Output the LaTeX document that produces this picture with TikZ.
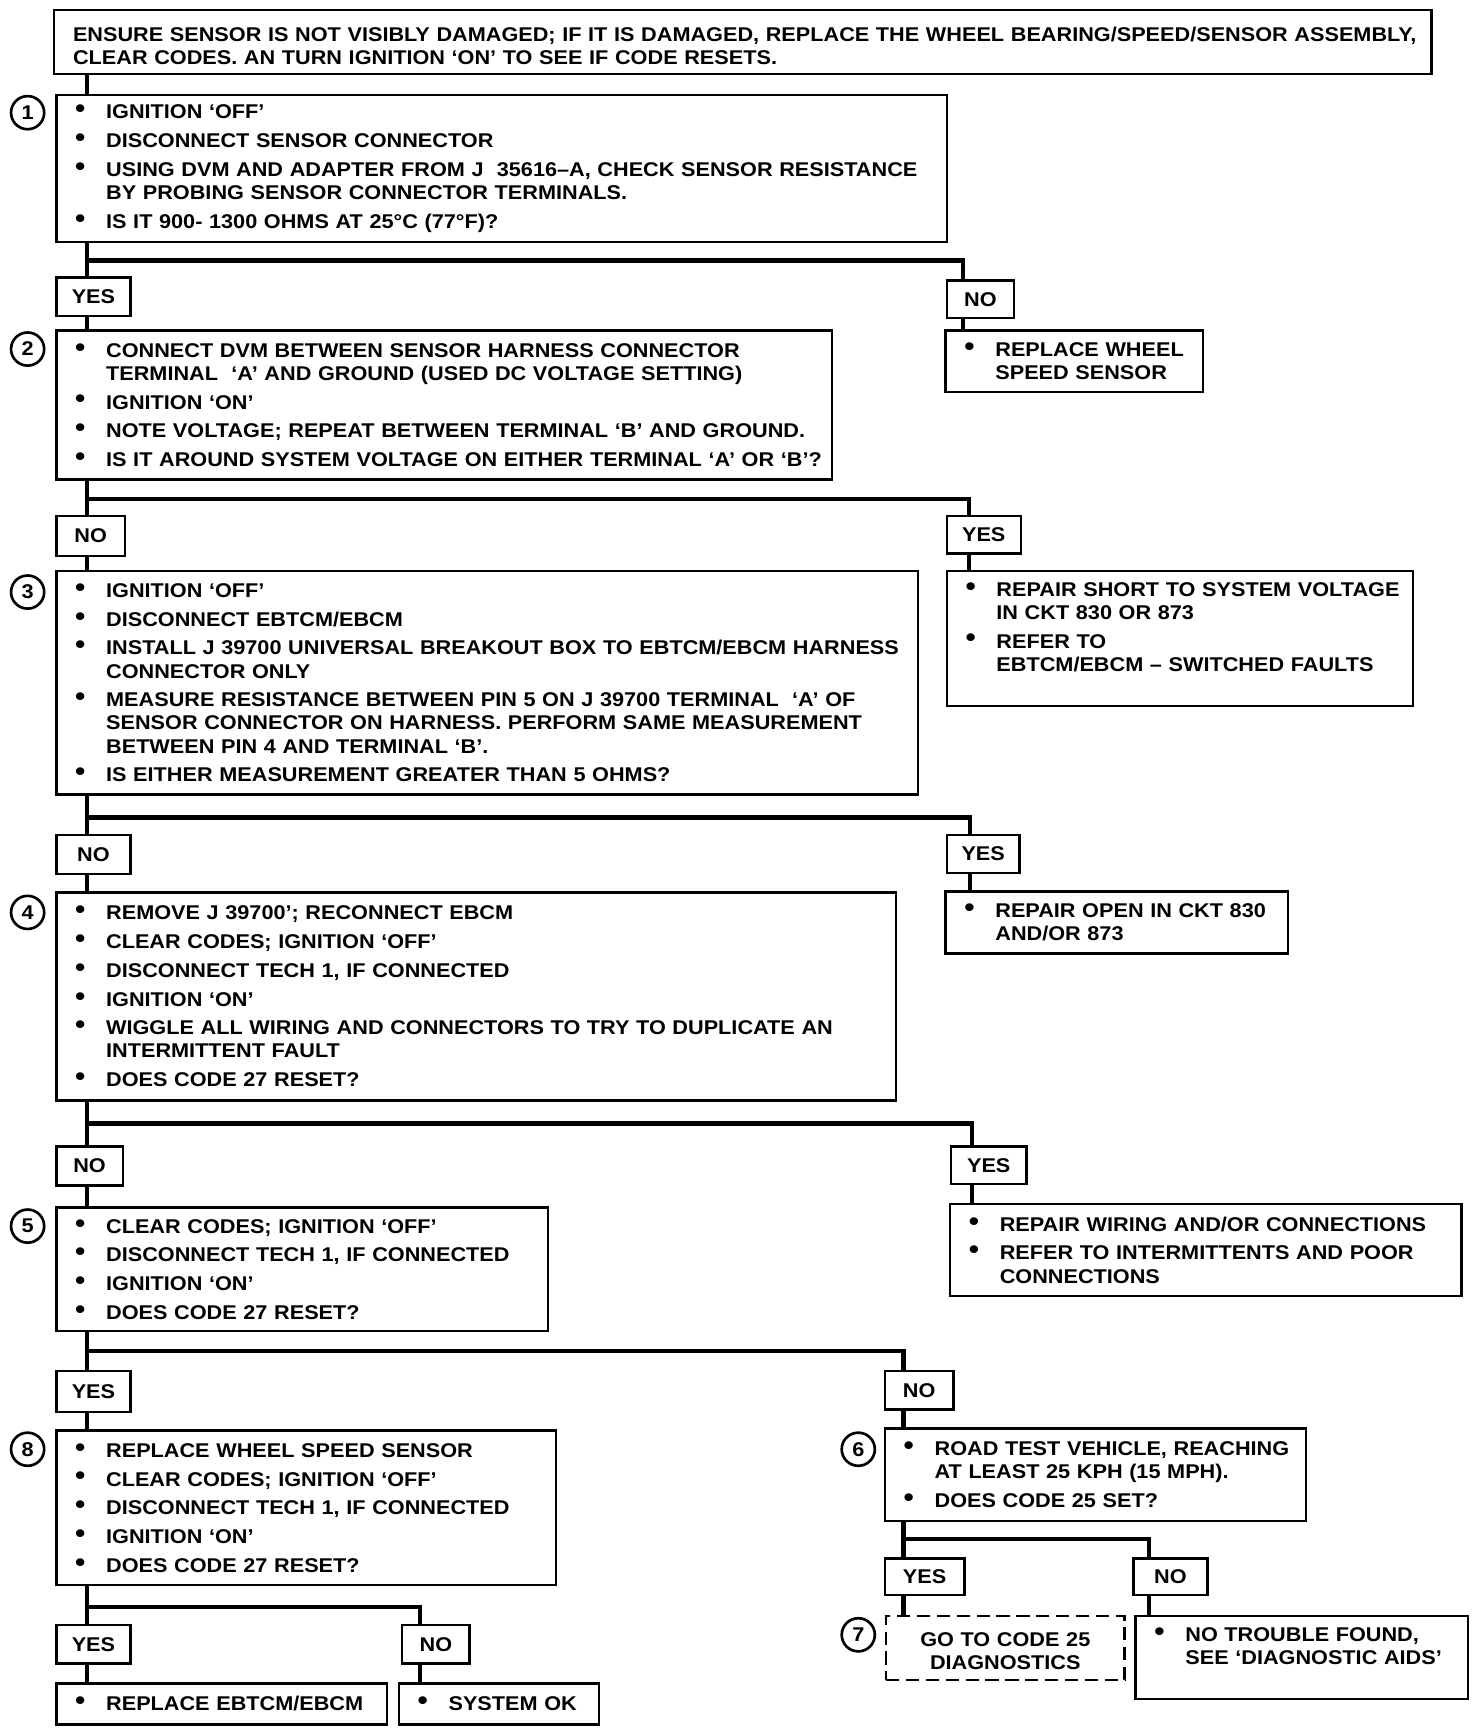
\documentclass[tikz,border=0pt]{standalone}
\usepackage{graphicx}
\usepackage{fontspec}
\setmainfont{Liberation Sans}[FakeStretch=1.09]

% one bullet line of a step box (no paragraph break before the first one)
\newcommand{\bulpar}{\relax}
\newcommand{\bitem}{\bulpar\def\bulpar{\par}\hangindent=14pt\hangafter=1\noindent
  \makebox[14pt][l]{\raisebox{0.1ex}{\scalebox{1.35}{\textbullet}}}}
% extra space under the text of a box
\newcommand{\botgap}[1]{\par\vspace{#1}}

\begin{document}
\begin{tikzpicture}[x=0.5pt,y=-0.5pt,
  box/.style={draw, line width=1.1pt, anchor=north west, inner xsep=4pt, inner ysep=0pt,
    font=\bfseries\fontsize{9}{10.5}\selectfont,
    execute at begin node={\raggedright\leftskip=4.5pt\rightskip=-5pt plus 1fil\parskip=2.5pt\let\bulpar\relax}},
  lab/.style={draw, line width=1.1pt, anchor=north west, inner sep=0pt,
    font=\bfseries\fontsize{9}{10.5}\selectfont},
  num/.style={circle, draw, line width=1.2pt, minimum size=15pt, inner sep=0pt,
    font=\bfseries\fontsize{9}{10}\selectfont},
  conn/.style={line width=2pt}]
\useasboundingbox (0,0) rectangle (1333,1568);

% step boxes
\node[box, minimum width=623.5pt, minimum height=29pt, text width=615.5pt] (s0) at (48,8)
  {\leftskip=3.5pt\rule{0pt}{10pt}ENSURE SENSOR IS NOT VISIBLY DAMAGED; IF IT IS DAMAGED, REPLACE THE WHEEL BEARING/SPEED/SENSOR ASSEMBLY,\newline
   CLEAR CODES. AN TURN IGNITION `ON' TO SEE IF CODE RESETS.};
\node[box, minimum width=403pt, minimum height=66.5pt, text width=395pt] (s1) at (50,85)
  {\bitem IGNITION `OFF'
   \bitem DISCONNECT SENSOR CONNECTOR
   \bitem USING DVM AND ADAPTER FROM J\ \ 35616--A, CHECK SENSOR RESISTANCE\newline BY PROBING SENSOR CONNECTOR TERMINALS.
   \bitem IS IT 900- 1300 OHMS AT 25°C (77°F)?\botgap{4pt}};
\node[box, minimum width=351pt, minimum height=67.5pt, text width=343pt] (s2) at (50,298)
  {\bitem CONNECT DVM BETWEEN SENSOR HARNESS CONNECTOR\newline TERMINAL\ \ `A' AND GROUND (USED DC VOLTAGE SETTING)
   \bitem IGNITION `ON'
   \bitem NOTE VOLTAGE; REPEAT BETWEEN TERMINAL `B' AND GROUND.
   \bitem IS IT AROUND SYSTEM VOLTAGE ON EITHER TERMINAL `A' OR `B'?\botgap{4pt}};
\node[box, minimum width=390pt, minimum height=101pt, text width=382pt] (s3) at (50,516)
  {\bitem IGNITION `OFF'
   \bitem DISCONNECT EBTCM/EBCM
   \bitem INSTALL J 39700 UNIVERSAL BREAKOUT BOX TO EBTCM/EBCM HARNESS\newline CONNECTOR ONLY
   \bitem MEASURE RESISTANCE BETWEEN PIN 5 ON J 39700 TERMINAL\ \ `A' OF\newline SENSOR CONNECTOR ON HARNESS. PERFORM SAME MEASUREMENT\newline BETWEEN PIN 4 AND TERMINAL `B'.
   \bitem IS EITHER MEASUREMENT GREATER THAN 5 OHMS?\botgap{4pt}};
\node[box, minimum width=380pt, minimum height=94pt, text width=372pt] (s4) at (50,807)
  {\bitem REMOVE J 39700'; RECONNECT EBCM
   \bitem CLEAR CODES; IGNITION `OFF'
   \bitem DISCONNECT TECH 1, IF CONNECTED
   \bitem IGNITION `ON'
   \bitem WIGGLE ALL WIRING AND CONNECTORS TO TRY TO DUPLICATE AN\newline INTERMITTENT FAULT
   \bitem DOES CODE 27 RESET?\botgap{4pt}};
\node[box, minimum width=222.5pt, minimum height=56pt, text width=214.5pt] (s5) at (50,1092)
  {\bitem CLEAR CODES; IGNITION `OFF'
   \bitem DISCONNECT TECH 1, IF CONNECTED
   \bitem IGNITION `ON'
   \bitem DOES CODE 27 RESET?\botgap{4pt}};
\node[box, minimum width=226pt, minimum height=70pt, text width=218pt] (s8) at (50,1294)
  {\bitem REPLACE WHEEL SPEED SENSOR
   \bitem CLEAR CODES; IGNITION `OFF'
   \bitem DISCONNECT TECH 1, IF CONNECTED
   \bitem IGNITION `ON'
   \bitem DOES CODE 27 RESET?\botgap{4pt}};
\node[box, minimum width=190.5pt, minimum height=42pt, text width=182.5pt] (s6) at (800,1292)
  {\bitem ROAD TEST VEHICLE, REACHING\newline AT LEAST 25 KPH (15 MPH).
   \bitem DOES CODE 25 SET?\botgap{4pt}};
\node[box, dash pattern=on 6pt off 3pt, minimum width=108pt, minimum height=29pt, text width=100pt,
  execute at begin node={\centering}] (s7) at (801,1462)
  {\rule{0pt}{9pt}GO TO CODE 25\\ DIAGNOSTICS};

% result boxes
\node[box, minimum width=116.5pt, minimum height=28pt, text width=108.5pt] (r1) at (855,298)
  {\bitem REPLACE WHEEL\newline SPEED SENSOR\botgap{4pt}};
\node[box, minimum width=211pt, minimum height=61pt, text width=203pt] (r2) at (856,516)
  {\vbox to 51pt{\leftskip=0pt\bitem REPAIR SHORT TO SYSTEM VOLTAGE\newline IN CKT 830 OR 873
   \bitem REFER TO\newline EBTCM/EBCM -- SWITCHED FAULTS\par\vfil}};
\node[box, minimum width=155pt, minimum height=28pt, text width=147pt] (r3) at (855,806)
  {\bitem REPAIR OPEN IN CKT 830\newline AND/OR 873\botgap{4pt}};
\node[box, minimum width=231.5pt, minimum height=41.5pt, text width=223.5pt] (r4) at (859,1089)
  {\bitem REPAIR WIRING AND/OR CONNECTIONS
   \bitem REFER TO INTERMITTENTS AND POOR\newline CONNECTIONS\botgap{4pt}};
\node[box, minimum width=149.5pt, minimum height=18.5pt, text width=141.5pt] (r5) at (50,1523)
  {\bitem REPLACE EBTCM/EBCM\botgap{4pt}};
\node[box, minimum width=90.5pt, minimum height=18.5pt, text width=82.5pt] (r6) at (360,1523)
  {\bitem SYSTEM OK\botgap{4pt}};
\node[box, minimum width=150.5pt, minimum height=37.5pt, text width=142.5pt] (r7) at (1027,1462)
  {\vbox to 27.5pt{\leftskip=0pt\bitem NO TROUBLE FOUND,\newline SEE `DIAGNOSTIC AIDS'\par\vfil}};

% answer labels
\node[lab, minimum width=33.5pt, minimum height=17.5pt] (ly1) at (50,250) {YES};
\node[lab, minimum width=30.5pt, minimum height=17pt] (ln1) at (856,253) {NO};
\node[lab, minimum width=31pt, minimum height=18pt] (ln2) at (50,466) {NO};
\node[lab, minimum width=33.5pt, minimum height=17pt] (ly2) at (856,466) {YES};
\node[lab, minimum width=33.5pt, minimum height=17.5pt] (ln3) at (50,755) {NO};
\node[lab, minimum width=33pt, minimum height=17pt] (ly3) at (856,755) {YES};
\node[lab, minimum width=30pt, minimum height=17.5pt] (ln4) at (50,1037) {NO};
\node[lab, minimum width=34pt, minimum height=17pt] (ly4) at (860,1037) {YES};
\node[lab, minimum width=33.5pt, minimum height=18.5pt] (ly5) at (50,1240) {YES};
\node[lab, minimum width=31pt, minimum height=17.5pt] (ln5) at (800,1240) {NO};
\node[lab, minimum width=33.5pt, minimum height=17.5pt] (ly8) at (50,1470) {YES};
\node[lab, minimum width=30.5pt, minimum height=17.5pt] (ln8) at (363,1470) {NO};
\node[lab, minimum width=36pt, minimum height=16.5pt] (ly6) at (800,1410) {YES};
\node[lab, minimum width=33.5pt, minimum height=16.5pt] (ln6) at (1025,1410) {NO};

% step numbers
\node[num] (c1) at (25,102) {1};
\node[num] (c2) at (25,316) {2};
\node[num] (c3) at (25,536) {3};
\node[num] (c4) at (25,826) {4};
\node[num] (c5) at (25,1110) {5};
\node[num] (c8) at (25,1312) {8};
\node[num] (c6) at (777,1312) {6};
\node[num] (c7) at (777,1480) {7};

% branch points
\coordinate (tk) at (79,0);
\coordinate (b1) at (79,236);   \coordinate (e1) at (872,236);
\coordinate (b2) at (79,452);   \coordinate (e2) at (877,452);
\coordinate (b3) at (79,740);   \coordinate (e3) at (878,740);
\coordinate (b4) at (79,1017);  \coordinate (e4) at (880,1017);
\coordinate (b5) at (79,1223);  \coordinate (e5) at (818,1223);
\coordinate (b8) at (79,1455);  \coordinate (e8) at (380,1455);
\coordinate (b6) at (818,1393); \coordinate (e6) at (1040,1393);

% connectors
\draw[conn] (s0.south -| tk) -- (s1.north -| tk);

\draw[conn] (s1.south -| b1) -- (ly1.north -| b1);
\draw[conn] (b1) -- (e1) -- (ln1.north -| e1);
\draw[conn] (ly1.south -| b1) -- (s2.north -| b1);
\draw[conn] (ln1.south -| e1) -- (r1.north -| e1);

\draw[conn] (s2.south -| b2) -- (ln2.north -| b2);
\draw[conn] (b2) -- (e2) -- (ly2.north -| e2);
\draw[conn] (ln2.south -| b2) -- (s3.north -| b2);
\draw[conn] (ly2.south -| e2) -- (r2.north -| e2);

\draw[conn] (s3.south -| b3) -- (ln3.north -| b3);
\draw[conn] (b3) -- (e3) -- (ly3.north -| e3);
\draw[conn] (ln3.south -| b3) -- (s4.north -| b3);
\draw[conn] (ly3.south -| e3) -- (r3.north -| e3);

\draw[conn] (s4.south -| b4) -- (ln4.north -| b4);
\draw[conn] (b4) -- (e4) -- (ly4.north -| e4);
\draw[conn] (ln4.south -| b4) -- (s5.north -| b4);
\draw[conn] (ly4.south -| e4) -- (r4.north -| e4);

\draw[conn] (s5.south -| b5) -- (ly5.north -| b5);
\draw[conn] (b5) -- (e5) -- (ln5.north -| e5);
\draw[conn] (ly5.south -| b5) -- (s8.north -| b5);
\draw[conn] (ln5.south -| e5) -- (s6.north -| e5);

\draw[conn] (s8.south -| b8) -- (ly8.north -| b8);
\draw[conn] (b8) -- (e8) -- (ln8.north -| e8);
\draw[conn] (ly8.south -| b8) -- (r5.north -| b8);
\draw[conn] (ln8.south -| e8) -- (r6.north -| e8);

\draw[conn] (s6.south -| b6) -- (ly6.north -| b6);
\draw[conn] (b6) -- (e6) -- (ln6.north -| e6);
\draw[conn] (ly6.south -| b6) -- (s7.north -| b6);
\draw[conn] (ln6.south -| e6) -- (r7.north -| e6);
\end{tikzpicture}
\end{document}
